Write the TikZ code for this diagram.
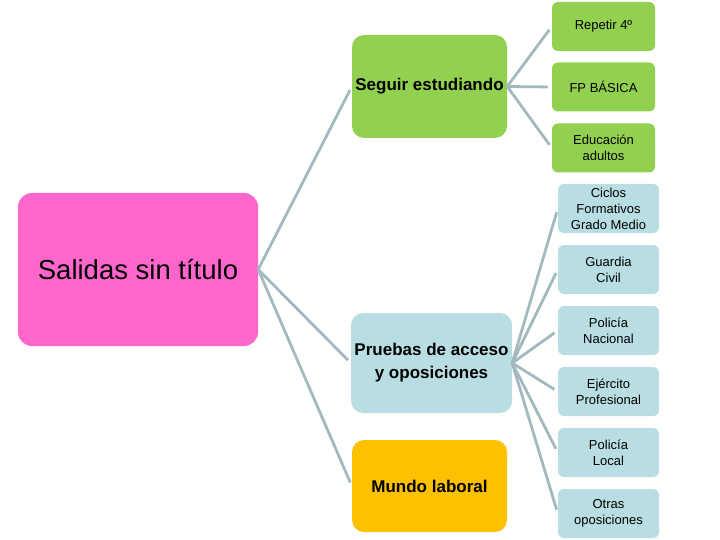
\documentclass[tikz,border=0pt]{standalone}
\usepackage{fontspec}
\setmainfont{Liberation Sans}
\usepackage{tikz}

\definecolor{rosa}{HTML}{FF66CC}
\definecolor{verde}{HTML}{92D050}
\definecolor{celeste}{HTML}{B8DEE3}
\definecolor{naranja}{HTML}{FFC000}
\definecolor{linea}{HTML}{A2B9BF}

\begin{document}
\begin{tikzpicture}[x=1pt,y=-1pt,shorten >=4pt]
  \tikzstyle{box}=[rectangle,rounded corners=6pt,align=center,inner sep=2pt]
  \tikzstyle{raiz}=[box,fill=rosa,rounded corners=14pt,minimum width=240pt,minimum height=153pt,font=\fontsize{27.5}{32}\selectfont]
  \tikzstyle{rama}=[box,rounded corners=12pt,minimum width=155pt,font=\bfseries\fontsize{17}{23}\selectfont]
  \tikzstyle{hoja}=[box,minimum width=103pt,minimum height=49pt,font=\fontsize{13}{16}\selectfont]
  \tikzstyle{enlace}=[draw=linea,line width=2.8pt]
  \useasboundingbox (0,0) rectangle (720,540);
  \node[raiz] (S_0) at (138,269.5) {Salidas sin título};
  \node[rama,fill=verde,minimum height=103pt] (S_1) at (429.5,86.5) {Seguir estudiando};
  \node[rama,fill=celeste,minimum width=161pt,minimum height=100pt] (S_2) at (431.5,363) {Pruebas de acceso\\y oposiciones};
  \node[rama,fill=naranja,minimum height=92pt] (S_3) at (429.5,486) {Mundo laboral};
  \node[hoja,fill=verde] (V_1) at (603.5,26.5) {Repetir 4º};
  \node[hoja,fill=verde] (V_2) at (603.5,87) {FP BÁSICA};
  \node[hoja,fill=verde] (V_3) at (603.5,148) {Educación\\adultos};
  \node[hoja,fill=celeste,minimum width=101pt] (A_1) at (608.5,208.5) {Ciclos\\Formativos\\Grado Medio};
  \node[hoja,fill=celeste,minimum width=101pt] (A_2) at (608.5,269.5) {Guardia\\Civil};
  \node[hoja,fill=celeste,minimum width=101pt] (A_3) at (608.5,330.5) {Policía\\Nacional};
  \node[hoja,fill=celeste,minimum width=101pt] (A_4) at (608.5,391.5) {Ejército\\Profesional};
  \node[hoja,fill=celeste,minimum width=101pt] (A_5) at (608.5,452.5) {Policía\\Local};
  \node[hoja,fill=celeste,minimum width=101pt] (A_6) at (608.5,513.5) {Otras\\oposiciones};
  \draw[enlace] (S_0.east) -- (S_1.west);
  \draw[enlace] (S_0.east) -- (S_2.west);
  \draw[enlace] (S_0.east) -- (S_3.west);
  \draw[enlace] (S_1.east) -- (V_1.west);
  \draw[enlace] (S_1.east) -- (V_2.west);
  \draw[enlace] (S_1.east) -- (V_3.west);
  \draw[enlace] (S_2.east) -- (A_1.west);
  \draw[enlace] (S_2.east) -- (A_2.west);
  \draw[enlace] (S_2.east) -- (A_3.west);
  \draw[enlace] (S_2.east) -- (A_4.west);
  \draw[enlace] (S_2.east) -- (A_5.west);
  \draw[enlace] (S_2.east) -- (A_6.west);
\end{tikzpicture}
\end{document}
